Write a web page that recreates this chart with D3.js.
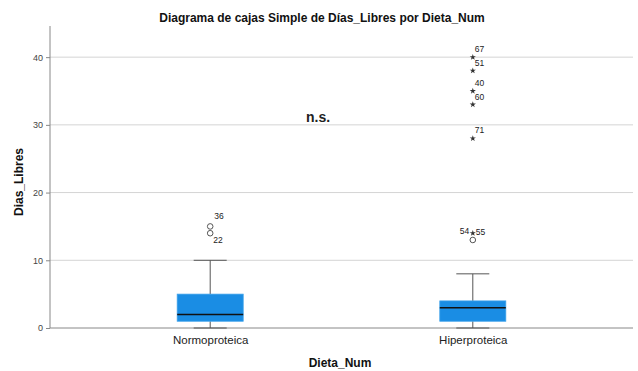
<!DOCTYPE html>
<html><head><meta charset="utf-8">
<script src="https://cdn.jsdelivr.net/npm/d3@7"></script>
<style>body{margin:0;background:#fff}svg{display:block;font-family:Arial,"Liberation Sans",sans-serif}</style>
</head><body><svg id="c" width="638" height="371"></svg>
<script>
const categories = ["Normoproteica", "Hiperproteica"];
const whiskerLow = [0, 0];
const q1 = [1, 1];
const median = [2, 3];
const q3 = [5, 4];
const whiskerHigh = [10, 8];
// outliers: [category index, value, case id, kind]
const outlierCat = [0, 0, 1, 1, 1, 1, 1, 1, 1];
const outlierVal = [15, 14, 13, 14, 40, 38, 35, 33, 28];
const outlierId = ["36", "22", "54", "55", "67", "51", "40", "60", "71"];
const outlierKind = ["o", "o", "o", "*", "*", "*", "*", "*", "*"];
const yTicks = [0, 10, 20, 30, 40];

const svg = d3.select("#c");
const m = {l: 50, r: 5, t: 26, b: 43};
const W = 638, H = 371;
const x = d3.scalePoint().domain(categories).range([m.l, W - m.r]).padding(0.61);
const y = d3.scaleLinear().domain([0, 44.6]).range([H - m.b, m.t]);

// gridlines
svg.append("g").selectAll("line").data(yTicks.slice(1)).join("line")
  .attr("x1", m.l).attr("x2", W - m.r).attr("y1", d => y(d)).attr("y2", d => y(d))
  .attr("stroke", "#d4d4d4").attr("stroke-width", 1);

// axes
const ya = svg.append("g").attr("transform", `translate(${m.l},0)`)
  .call(d3.axisLeft(y).tickValues(yTicks).tickSize(4).tickPadding(3));
ya.select(".domain").attr("stroke", "#888").attr("d", `M0,${y(0)}V${m.t}`);
ya.selectAll(".tick line").attr("stroke", "#888");
ya.selectAll("text").attr("font-size", 9).attr("fill", "#444").attr("font-family", "Arial, Liberation Sans, sans-serif");

svg.append("line").attr("x1", m.l).attr("x2", W - m.r).attr("y1", y(0)).attr("y2", y(0))
  .attr("stroke", "#888");

const xa = svg.append("g").attr("transform", `translate(0,${y(0)})`)
  .call(d3.axisBottom(x).tickSize(0).tickPadding(8));
xa.select(".domain").remove();
xa.selectAll("text").attr("font-size", 11.5).attr("fill", "#222").attr("font-family", "Arial, Liberation Sans, sans-serif");

// boxes
const bw = 66, cw = 33;
const g = svg.append("g");
categories.forEach((c, i) => {
  const cx = x(c);
  g.append("line").attr("x1", cx).attr("x2", cx).attr("y1", y(whiskerLow[i])).attr("y2", y(q1[i])).attr("stroke", "#555");
  g.append("line").attr("x1", cx).attr("x2", cx).attr("y1", y(q3[i])).attr("y2", y(whiskerHigh[i])).attr("stroke", "#555");
  g.append("line").attr("x1", cx - cw/2).attr("x2", cx + cw/2).attr("y1", y(whiskerHigh[i])).attr("y2", y(whiskerHigh[i])).attr("stroke", "#555");
  g.append("line").attr("x1", cx - cw/2).attr("x2", cx + cw/2).attr("y1", y(whiskerLow[i])).attr("y2", y(whiskerLow[i])).attr("stroke", "#555");
  g.append("rect").attr("x", cx - bw/2).attr("width", bw).attr("y", y(q3[i])).attr("height", y(q1[i]) - y(q3[i]))
    .attr("fill", "#1a8de4").attr("stroke", "#3aa0ea").attr("stroke-width", 0.8);
  g.append("line").attr("x1", cx - bw/2).attr("x2", cx + bw/2).attr("y1", y(median[i])).attr("y2", y(median[i]))
    .attr("stroke", "#111").attr("stroke-width", 1.6);
});

// outliers
const labelOffsets = {"36": [4, -7], "22": [3, 10], "54": [-13, -6], "55": [3, 2], "67": [2, -5], "51": [2, -5], "40": [2, -5], "60": [2, -5], "71": [2, -5]};
outlierVal.forEach((v, k) => {
  const cx = x(categories[outlierCat[k]]), cy = y(v);
  if (outlierKind[k] === "o") {
    g.append("circle").attr("cx", cx).attr("cy", cy).attr("r", 2.8).attr("fill", "none").attr("stroke", "#555").attr("stroke-width", 1);
  } else {
    g.append("path").attr("d", d3.symbol(d3.symbolStar, 12)()).attr("transform", `translate(${cx},${cy})`).attr("fill", "#333");
  }
  const off = labelOffsets[outlierId[k]];
  g.append("text").attr("x", cx + off[0]).attr("y", cy + off[1]).attr("font-size", 8.5).attr("fill", "#222").text(outlierId[k]);
});

// annotations
svg.append("text").attr("x", 318).attr("y", 122).attr("text-anchor", "middle").attr("font-size", 14).attr("font-weight", "bold").attr("fill", "#222").text("n.s.");
svg.append("text").attr("x", 322).attr("y", 22).attr("text-anchor", "middle").attr("font-size", 12).attr("font-weight", "bold").attr("fill", "#111").text("Diagrama de cajas Simple de Días_Libres por Dieta_Num");
svg.append("text").attr("transform", `translate(23,${(y(0)+m.t)/2+5}) rotate(-90)`).attr("text-anchor", "middle").attr("font-size", 12).attr("font-weight", "bold").attr("fill", "#111").text("Dias_Libres");
svg.append("text").attr("x", 340).attr("y", 367).attr("text-anchor", "middle").attr("font-size", 12).attr("font-weight", "bold").attr("fill", "#111").text("Dieta_Num");
</script></body></html>
